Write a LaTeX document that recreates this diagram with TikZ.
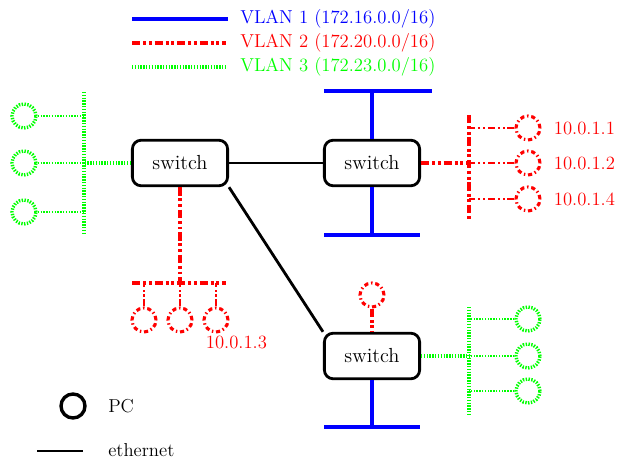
\documentclass[tikz,border=0pt]{standalone}
\usepackage{xcolor}
\usepackage{tikz}
\usetikzlibrary{positioning}
\definecolor{vlanblue}{HTML}{0000FF}
\definecolor{vlanred}{HTML}{FF0000}
\definecolor{vlangreen}{HTML}{00FF00}
\tikzset{
  switchbox/.style={draw, line width=2pt, rounded corners=0.22cm, fill=white,
    minimum width=2.38cm, minimum height=1.14cm, inner sep=0pt,
    font=\fontsize{14.5}{17}\selectfont},
  ether/.style={line width=2pt},
  vlanone/.style={draw=vlanblue, line width=2.8pt},
  vlantwo/.style={draw=vlanred, line width=2.8pt,
    dash pattern=on 6pt off 2pt on 2pt off 2pt on 2pt off 2pt},
  vlantwothin/.style={draw=vlanred, line width=1.5pt,
    dash pattern=on 5pt off 2pt on 1.5pt off 2pt on 1.5pt off 2pt},
  vlanthree/.style={draw=vlangreen, line width=2.4pt, dash pattern=on 1pt off 1pt},
  vlanthreethin/.style={draw=vlangreen, line width=2pt, dash pattern=on 1pt off 1pt},
  pc/.style={circle, minimum size=0.6cm, inner sep=0pt, line width=2pt},
  pcred/.style={pc, draw=vlanred, line width=2.2pt, dash pattern=on 3pt off 2pt on 1pt off 2pt},
  pcgreen/.style={pc, draw=vlangreen, line width=2.4pt, dash pattern=on 1pt off 1pt},
  legtext/.style={anchor=west, inner sep=0pt},
  iplabel/.style={text=vlanred, inner sep=0pt}
}

\begin{document}
\begin{tikzpicture}[x=0.025cm, y=-0.025cm, font=\fontsize{13.3}{16}\selectfont]
\useasboundingbox (0,0) rectangle (618,459);

% legend
\coordinate (lgone) at (132,19);
\coordinate (lgonee) at (228,19);
\coordinate (lgtwo) at (132,43);
\coordinate (lgtwoe) at (226,43);
\coordinate (lgthree) at (132,67);
\coordinate (lgthreee) at (226,67);
\draw[vlanone] (lgone) -- (lgonee);
\draw[vlantwo] (lgtwo) -- (lgtwoe);
\draw[vlanthree] (lgthree) -- (lgthreee);
\node[legtext, text=vlanblue] (tone) at (240,19) {VLAN 1 (172.16.0.0/16)};
\node[legtext, text=vlanred] (ttwo) at (240,43) {VLAN 2 (172.20.0.0/16)};
\node[legtext, text=vlangreen] (tthree) at (240,67) {VLAN 3 (172.23.0.0/16)};

% switches
\node[switchbox] (swa) at (180,163) {switch};
\node[switchbox] (swb) at (372,163) {switch};
\node[switchbox] (swc) at (372,356) {switch};

% ethernet
\draw[ether] (swa) -- (swb);
\draw[ether] (swa.south east) -- (swc.north west);

% vlan 1
\coordinate (btm) at (372,91);
\coordinate (btl) at (324,91);
\coordinate (btr) at (432,91);
\draw[vlanone] (swb.north) -- (btm);
\draw[vlanone] (btl) -- (btr);
\coordinate (bbm) at (372,235);
\coordinate (bbl) at (324,235);
\coordinate (bbr) at (420,235);
\draw[vlanone] (swb.south) -- (bbm);
\draw[vlanone] (bbl) -- (bbr);
\coordinate (bcm) at (372,427);
\coordinate (bcl) at (324,427);
\coordinate (bcr) at (420,427);
\draw[vlanone] (swc.south) -- (bcm);
\draw[vlanone] (bcl) -- (bcr);

% vlan 3, left
\coordinate (gam) at (84,163);
\coordinate (gat) at (84,92);
\coordinate (gab) at (84,233);
\draw[vlanthree] (swa.west) -- (gam);
\draw[vlanthree] (gat) -- (gab);
\node[pcgreen] (pcga) at (24,116) {};
\node[pcgreen] (pcgb) at (24,163) {};
\node[pcgreen] (pcgc) at (24,212) {};
\draw[vlanthreethin] (pcga) -- (pcga -| gat);
\draw[vlanthreethin] (pcgb) -- (gam);
\draw[vlanthreethin] (pcgc) -- (pcgc -| gat);

% vlan 3, right
\coordinate (gcm) at (469,356);
\coordinate (gct) at (469,307);
\coordinate (gcb) at (469,414);
\draw[vlanthree] (swc.east) -- (gcm);
\draw[vlanthree] (gct) -- (gcb);
\node[pcgreen] (pcgd) at (528,319) {};
\node[pcgreen] (pcge) at (528,356) {};
\node[pcgreen] (pcgf) at (528,391) {};
\draw[vlanthreethin] (pcgd) -- (pcgd -| gct);
\draw[vlanthreethin] (pcge) -- (gcm);
\draw[vlanthreethin] (pcgf) -- (pcgf -| gct);

% vlan 2, below first switch
\coordinate (ram) at (180,283);
\coordinate (ral) at (132,283);
\coordinate (rar) at (226,283);
\draw[vlantwo] (swa.south) -- (ram);
\draw[vlantwo] (ral) -- (rar);
\node[pcred] (pcra) at (144,320) {};
\node[pcred] (pcrb) at (180,320) {};
\node[pcred] (pcrc) at (216,320) {};
\draw[vlantwothin] (pcra.north) -- (pcra |- ram);
\draw[vlantwothin] (pcrb.north) -- (ram);
\draw[vlantwothin] (pcrc.north) -- (pcrc |- ram);
\node[iplabel, below right=0.15cm and -0.5cm of pcrc] (ipc) {10.0.1.3};

% vlan 2, right of second switch
\coordinate (rbm) at (469,163);
\coordinate (rbt) at (469,115);
\coordinate (rbb) at (469,220);
\draw[vlantwo] (swb.east) -- (rbm);
\draw[vlantwo] (rbt) -- (rbb);
\node[pcred] (pcrd) at (528,128) {};
\node[pcred] (pcre) at (528,163) {};
\node[pcred] (pcrf) at (528,199) {};
\draw[vlantwothin] (pcrd) -- (pcrd -| rbt);
\draw[vlantwothin] (pcre) -- (rbm);
\draw[vlantwothin] (pcrf) -- (pcrf -| rbt);
\node[iplabel, right=0.3cm of pcrd] (ipa) {10.0.1.1};
\node[iplabel, right=0.3cm of pcre] (ipb) {10.0.1.2};
\node[iplabel, right=0.3cm of pcrf] (ipd) {10.0.1.4};

% vlan 2, above third switch
\node[pcred] (pcrg) at (372,295) {};
\draw[vlantwo] (pcrg.south) -- (swc.north);

% legend, bottom
\node[pc, draw, line width=2.4pt] (pcleg) at (73,406) {};
\node[legtext] (tpc) at (108,406) {PC};
\coordinate (eta) at (37,451);
\coordinate (etb) at (83,451);
\draw[ether, line width=1.6pt] (eta) -- (etb);
\node[legtext] (teth) at (108,450) {ethernet};
\end{tikzpicture}
\end{document}
